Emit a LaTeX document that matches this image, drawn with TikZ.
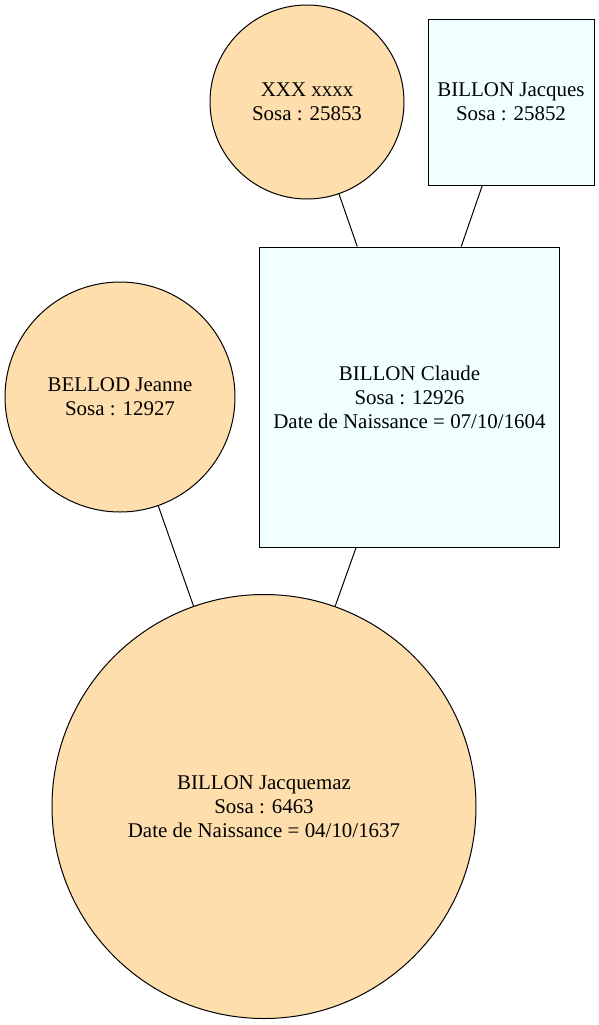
\documentclass[tikz,border=0pt]{standalone}
\usepackage{fontspec}
\setmainfont{Liberation Serif}
\definecolor{myorange}{HTML}{FFDEAD}
\definecolor{myazure}{HTML}{F0FFFF}

\begin{document}
\begin{tikzpicture}[x=0.75pt, y=-0.75pt,
    person/.style={draw=black, line width=0.75pt, inner sep=0pt, align=center,
        font=\fontsize{15.7}{18}\selectfont},
    rond/.style={person, circle, fill=myorange, minimum size=#1*0.75pt},
    carre/.style={person, rectangle, fill=myazure, minimum size=#1*0.75pt}]

    % 页面大小
    \useasboundingbox (0,0) rectangle (599,1025);

    % 第三代
    \node[rond=194] (xxx) at (307,102) {XXX xxxx\\Sosa : 25853};
    \node[carre=166] (jacques) at (511,102) {BILLON Jacques\\Sosa : 25852};

    % 第二代
    \node[carre=300] (claude) at (409.5,397)
        {BILLON Claude\\Sosa : 12926\\Date de Naissance = 07/10/1604};
    \node[rond=230] (jeanne) at (120,397) {BELLOD Jeanne\\Sosa : 12927};

    % 第一代
    \node[rond=424] (jacquemaz) at (264,806.5)
        {BILLON Jacquemaz\\Sosa : 6463\\Date de Naissance = 04/10/1637};

    % 连线
    \draw[line width=0.75pt] (xxx) -- (claude);
    \draw[line width=0.75pt] (jacques) -- (claude);
    \draw[line width=0.75pt] (jeanne) -- (jacquemaz);
    \draw[line width=0.75pt] (claude) -- (jacquemaz);

\end{tikzpicture}
\end{document}
